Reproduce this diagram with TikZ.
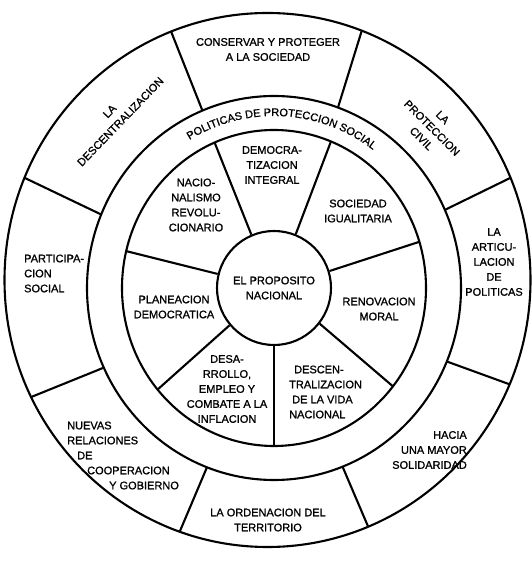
\documentclass[tikz,border=0pt]{standalone}
\usepackage{fontspec}
\newfontfamily\wheelfont[FakeBold=1.1]{Liberation Sans}
\usetikzlibrary{calc, decorations.text}

\begin{document}
\begin{tikzpicture}[
    x=1pt, y=1pt,
    every node/.style={font=\wheelfont\fontsize{11}{15}\selectfont},
    ringline/.style={line width=2.1pt, black},
    lbl/.style={align=center, inner sep=0pt},
    rotlbl/.style={lbl, rotate=#1},
  ]
  \useasboundingbox (0,0) rectangle (532,562);

  \coordinate (O1) at (267.5,282);  % rim centre
  \coordinate (O2) at (274,274);    % inner rings centre

  % ============ Rings ============
  \draw[ringline] (O1) ellipse[x radius=263, y radius=267];
  \draw[ringline] (O2) ellipse[x radius=187, y radius=192];
  \draw[ringline] (O2) ellipse[x radius=152, y radius=158];
  \node[lbl, draw, circle, line width=2.1pt, minimum size=114pt] (centro) at (O2)
    {EL PROPOSITO\\NACIONAL};

  % ============ Spokes ============
  % inner ring, seven parts
  \foreach \a in {113,68,17,-38.5,-90,-140,166.5}
    \draw[ringline] (centro.\a) -- ($(O2)+(\a:152 and 158)$);
  % outer ring, eight parts
  \foreach \a/\b in {112.5/111.5, 70/69, 24/22.5, -22.5/-23, -68.5/-67.5,
                     -111/-109.5, -155.5/-154, 157.5/157.5}
    \draw[ringline] ($(O2)+(\a:187 and 192)$) -- ($(O1)+(\b:263 and 267)$);

  % ============ Band title ============
  \path[decorate, decoration={text along path, text align=center,
      text={|\wheelfont\fontsize{11}{15}\selectfont|POLITICAS DE PROTECCION SOCIAL}}]
    ($(O2)+(125:166 and 172)$) arc[start angle=125, end angle=49,
                                  x radius=166, y radius=172];

  % ============ Inner ring labels ============
  \node[lbl] (democ) at (272,397) {DEMOCRA-\\TIZACION\\INTEGRAL};
  \node[lbl] (socied) at (358,351) {SOCIEDAD\\IGUALITARIA};
  \node[lbl] (renov) at (379,253) {RENOVACION\\MORAL};
  \node[lbl, align=left, anchor=west] (descvida) at (289,170)
    {\hspace*{5pt}DESCEN-\\TRALIZACION\\\hspace*{3pt}DE LA VIDA\\NACIONAL};
  \node[lbl] (desarr) at (227,173) {DESA-\\RROLLO,\\EMPLEO Y\\COMBATE A LA\\INFLACION};
  \node[lbl] (planea) at (174,255) {PLANEACION\\DEMOCRATICA};
  \node[lbl] (nacio) at (196,357) {NACIO-\\NALISMO\\REVOLU-\\CIONARIO};

  % ============ Outer ring labels ============
  \node[lbl] (conservar) at (268,512.5) {CONSERVAR Y PROTEGER\\A LA SOCIEDAD};
  \node[rotlbl=-45] (proteccion) at (432,434) {LA\\PROTECCION\\CIVIL};
  \node[lbl] (articul) at (494,300) {LA\\ARTICU-\\LACION\\DE\\POLITICAS};
  \node[lbl, align=right, anchor=east] (hacia) at (467,112)
    {HACIA\\UNA MAYOR\\SOLIDARIDAD};
  \node[lbl] (ordena) at (268,42) {LA ORDENACION DEL\\TERRITORIO};
  \node[lbl, align=left, anchor=west] (nuevas) at (67,106.5)
    {NUEVAS\\RELACIONES\\\hspace*{10pt}DE\\\hspace*{20pt}COOPERACION\\\hspace*{42pt}Y GOBIERNO};
  \node[lbl, align=left, anchor=west] (partic) at (24,288.5) {PARTICIPA-\\CION\\SOCIAL};
  \node[rotlbl=46] (descentr) at (115,445.5) {LA\\DESCENTRALIZACION};

\end{tikzpicture}
\end{document}
